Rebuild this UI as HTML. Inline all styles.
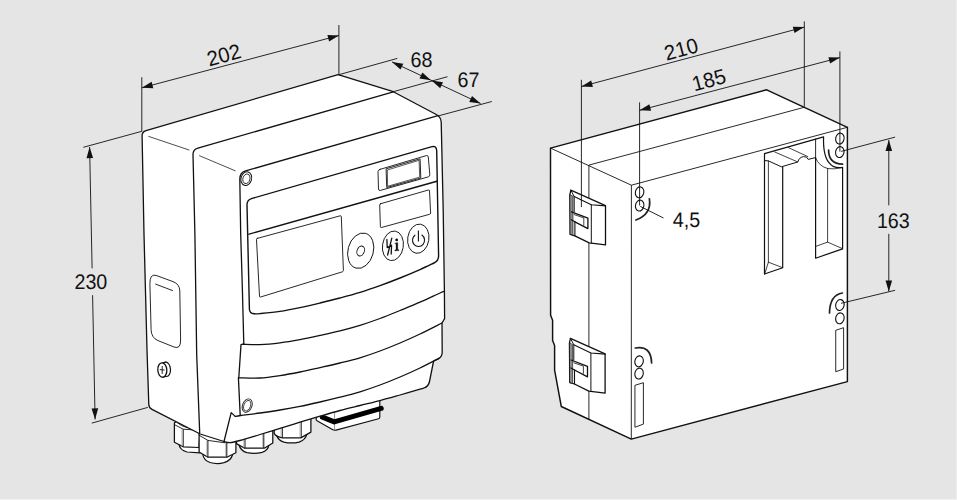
<!DOCTYPE html>
<html><head><meta charset="utf-8"><title>Dimensions</title>
<style>
html,body{margin:0;padding:0;background:#e5e5e5;}
body{width:957px;height:500px;overflow:hidden;position:relative;font-family:"Liberation Sans",sans-serif;}
svg{position:absolute;left:0;top:0;display:block}
text{font-family:"Liberation Sans",sans-serif;fill:#111;text-rendering:geometricPrecision}
</style></head><body>
<svg width="957" height="500" viewBox="0 0 957 500">
<rect x="0" y="0" width="957" height="500" fill="#e5e5e5"/>
<rect x="956" y="0" width="1" height="500" fill="#eeeeee"/>
<rect x="0" y="499" width="957" height="1" fill="#f2f2f2"/>
<g id="left">
<path d="M178.7,443 Q179.6,450.4 187.1,452 L200,452.8 L200,444 Z" fill="#fff" stroke="#111" stroke-width="1.25" stroke-linejoin="round" stroke-linecap="round" />
<path d="M174.4,423 L177.5,420.5 L200,431 L199,447.5 L183.2,446.8 L174.4,442.3 Z" fill="#fff" stroke="#111" stroke-width="1.25" stroke-linejoin="round" stroke-linecap="round" />
<line x1="183.2" y1="429.2" x2="183.2" y2="446.8" stroke="#111" stroke-width="1.0"/>
<line x1="181.89999999999998" y1="429.59999999999997" x2="181.89999999999998" y2="446.2" stroke="#9a9a9a" stroke-width="0.6"/>
<path d="M174.4,424.6 L183.2,429.2 L198.6,430.2 M177.2,422.6 Q181,426.2 187,427.6" fill="none" stroke="#111" stroke-width="0.9" stroke-linejoin="round" stroke-linecap="round" />
<path d="M239.1,445 Q240.6,451 247,452.6 Q254.7,454.2 262,452.4 Q268,450.6 269,444.6 Z" fill="#fff" stroke="#111" stroke-width="1.25" stroke-linejoin="round" stroke-linecap="round" />
<path d="M236.5,434 L236.5,443.6 L244.6,448.2 L264.3,448.2 L272.8,443 L272.8,426 Z" fill="#fff" stroke="#111" stroke-width="1.25" stroke-linejoin="round" stroke-linecap="round" />
<line x1="245" y1="437" x2="245" y2="448.2" stroke="#111" stroke-width="1.0"/>
<line x1="243.7" y1="437.4" x2="243.7" y2="447.59999999999997" stroke="#9a9a9a" stroke-width="0.6"/>
<line x1="263.8" y1="431" x2="263.8" y2="448.2" stroke="#111" stroke-width="1.0"/>
<line x1="262.5" y1="431.4" x2="262.5" y2="447.59999999999997" stroke="#9a9a9a" stroke-width="0.6"/>
<path d="M276.5,435 Q278.2,440.6 284,442.1 Q291.4,443.8 299,442.1 Q305.6,440 307,433.6 Z" fill="#fff" stroke="#111" stroke-width="1.25" stroke-linejoin="round" stroke-linecap="round" />
<path d="M274.2,427 L274.2,433.4 Q276,436.8 282.3,437.9 L300.8,437.9 L310.9,432.1 L310.9,416 Z" fill="#fff" stroke="#111" stroke-width="1.25" stroke-linejoin="round" stroke-linecap="round" />
<line x1="282.3" y1="427" x2="282.3" y2="437.9" stroke="#111" stroke-width="1.0"/>
<line x1="281.0" y1="427.4" x2="281.0" y2="437.29999999999995" stroke="#9a9a9a" stroke-width="0.6"/>
<line x1="301.2" y1="421" x2="301.2" y2="437.9" stroke="#111" stroke-width="1.0"/>
<line x1="299.9" y1="421.4" x2="299.9" y2="437.29999999999995" stroke="#9a9a9a" stroke-width="0.6"/>
<path d="M202.7,454 Q203.6,460.2 210,462.5 Q217,464.6 224,462.7 Q231,460.6 232.6,454.5 Z" fill="#fff" stroke="#111" stroke-width="1.25" stroke-linejoin="round" stroke-linecap="round" />
<path d="M199.1,431 L199.1,452 L207.9,457.2 L226.8,457.2 L235.9,452.7 L235.9,436 Z" fill="#fff" stroke="#111" stroke-width="1.25" stroke-linejoin="round" stroke-linecap="round" />
<line x1="207.9" y1="440.3" x2="207.9" y2="457.2" stroke="#111" stroke-width="1.0"/>
<line x1="206.6" y1="440.7" x2="206.6" y2="456.59999999999997" stroke="#9a9a9a" stroke-width="0.6"/>
<line x1="226.8" y1="442.9" x2="226.8" y2="457.2" stroke="#111" stroke-width="1.0"/>
<line x1="225.5" y1="443.29999999999995" x2="225.5" y2="456.59999999999997" stroke="#9a9a9a" stroke-width="0.6"/>
<path d="M199.1,435.2 L207.9,440.4 L225,442.8" fill="none" stroke="#111" stroke-width="0.9" stroke-linejoin="round" stroke-linecap="round" />
<path d="M320,409 L316.2,418.6 Q315.6,420 317,420.8 L332.4,429.6 Q334.2,430.6 336,430.1 L378.6,418.8 Q379.8,418.5 379.8,417.3 L379.8,399 Z" fill="#fff" stroke="#111" stroke-width="1.15" stroke-linejoin="round" stroke-linecap="round" />
<line x1="334.6" y1="412" x2="334.6" y2="430" stroke="#777" stroke-width="0.8"/>
<path d="M322.4,417.2 L334.2,421.9 L381.2,408.4" fill="none" stroke="#000" stroke-width="5.1" stroke-linejoin="round" stroke-linecap="round" />
<path d="M142.1,136 Q142,131.8 146,130.6 L338.1,74.7 L393.3,91.7 L435.8,114.3 Q441,117 441.2,122 L443.2,210 L444.4,291.3 L444.6,318.6 L442,323 L442.2,352 Q442.2,356.8 439,358.3 L433.6,361 L429.6,381 Q428.6,386.6 424,388 L424,388 C423.33,388.20 424.00,388.03 420,389.2 C416.00,390.37 406.67,393.10 400,395 C393.33,396.90 386.67,398.85 380,400.6 C373.33,402.35 366.67,403.85 360,405.5 C353.33,407.15 346.67,408.72 340,410.5 C333.33,412.28 326.67,414.25 320,416.2 C313.33,418.15 306.67,420.18 300,422.2 C293.33,424.22 286.67,426.25 280,428.3 C273.33,430.35 266.67,432.47 260,434.5 C253.33,436.53 245.00,439.15 240,440.5 C235.00,441.85 232.67,442.43 230,442.6 C227.33,442.77 225.00,441.68 224,441.5 L200.2,434 L152,409.4 Q148.9,407.8 148.8,404.5 L147,350 L144,234 Z" fill="#fff" stroke="#111" stroke-width="1.3" stroke-linejoin="round" stroke-linecap="round" />
<path d="M393.3,91.9 L197.9,148.1 Q193,149.6 193,154.5 L194.9,234.1 L196.7,355 L199.7,433" fill="none" stroke="#111" stroke-width="1.3" stroke-linejoin="round" stroke-linecap="round" />
<path d="M438,115.6 L245.6,170.9 Q239.8,172.6 239.8,179 L240.7,234 L242.4,290 L243.8,343.9" fill="none" stroke="#111" stroke-width="1.3" stroke-linejoin="round" stroke-linecap="round" />
<line x1="148.3" y1="136.3" x2="189.4" y2="150.1" stroke="#111" stroke-width="0.75"/>
<line x1="199.2" y1="155.6" x2="235.5" y2="170.9" stroke="#111" stroke-width="0.75"/>
<ellipse cx="246.3" cy="178.6" rx="5.3" ry="6.9" transform="rotate(16 246.3 178.6)" fill="#fff" stroke="#111" stroke-width="1.0"/>
<ellipse cx="246.4" cy="178.8" rx="3.5" ry="4.9" transform="rotate(16 246.4 178.8)" fill="none" stroke="#111" stroke-width="0.8"/>
<path d="M247,205 Q246.9,200.1 251.5,198.6 L432,146.6 Q436.3,145.6 436.7,150.5 L438.6,256 Q438.6,260.8 434,263 L434,263 C431.67,264.10 425.67,267.10 420,269.6 C414.33,272.10 406.67,275.33 400,278 C393.33,280.67 386.67,283.20 380,285.6 C373.33,288.00 366.67,290.33 360,292.4 C353.33,294.47 346.67,296.23 340,298 C333.33,299.77 326.67,301.40 320,303 C313.33,304.60 306.67,306.20 300,307.6 C293.33,309.00 286.67,310.40 280,311.4 C273.33,312.40 264.33,313.20 260,313.6 C255.67,314.00 255.00,313.77 254,313.8 Q249.6,313.6 249.4,309 Z" fill="none" stroke="#111" stroke-width="1.4" stroke-linejoin="round" stroke-linecap="round" />
<line x1="248.3" y1="234.3" x2="437.8" y2="181" stroke="#111" stroke-width="1.4"/>
<path d="M257.3,238.4 L340.2,215.8 Q341.2,215.6 341.3,216.6 L343.4,270.4 Q343.4,271.4 342.4,271.8 L260.6,297 Q259.6,297.3 259.5,296.3 L256.5,239.6 Q256.4,238.6 257.3,238.4 Z" fill="none" stroke="#111" stroke-width="0.9" stroke-linejoin="round" stroke-linecap="round" />
<path d="M380,169.4 L426.3,155.6 Q428.1,155.1 428.3,157 L429.8,174.6 Q429.9,176.4 428.2,176.9 L380.4,190.4 Q378.6,190.9 378.5,189 L378,171.6 Q378,170 380,169.4 Z" fill="none" stroke="#111" stroke-width="0.9" stroke-linejoin="round" stroke-linecap="round" />
<path d="M386.5,168.7 L420.1,158.8 L420.8,178 L387.1,187.4 Z" fill="none" stroke="#111" stroke-width="0.9" stroke-linejoin="round" stroke-linecap="round" />
<path d="M387.7,169.9 L419.1,160.3 L419.7,177.1 L388,186.2 Z" fill="none" stroke="#111" stroke-width="0.7" stroke-linejoin="round" stroke-linecap="round" />
<path d="M380.7,203.7 L428.4,190 Q429.4,189.7 429.5,190.7 L430.6,213 Q430.6,214 429.6,214.3 L381.4,227.5 Q380.5,227.8 380.4,226.8 L379.7,205 Q379.7,204 380.7,203.7 Z" fill="none" stroke="#111" stroke-width="0.9" stroke-linejoin="round" stroke-linecap="round" />
<ellipse cx="360.7" cy="250.7" rx="12.7" ry="18" transform="rotate(15 360.7 250.7)" fill="none" stroke="#111" stroke-width="0.9"/>
<ellipse cx="360.7" cy="251" rx="3.6" ry="5.1" transform="rotate(22 360.7 251)" fill="none" stroke="#111" stroke-width="0.9"/>
<ellipse cx="392.9" cy="245.8" rx="10.4" ry="14.9" transform="rotate(9 392.9 245.8)" fill="none" stroke="#111" stroke-width="0.9"/>
<ellipse cx="418.3" cy="238.7" rx="10.6" ry="14.7" transform="rotate(9 418.3 238.7)" fill="none" stroke="#111" stroke-width="0.9"/>
<path d="M414.9,235.2 A6,6.3 0 1 0 421.9,235" fill="none" stroke="#111" stroke-width="1.1" stroke-linejoin="round" stroke-linecap="round" />
<line x1="418.4" y1="230.6" x2="418.4" y2="241.4" stroke="#111" stroke-width="1.1"/>
<path d="M386.9,239.4 L387.2,247.6 L391.6,245.2 M391.8,238.2 L387.6,255 M391.6,245.2 L391.2,254" fill="none" stroke="#111" stroke-width="1.3" stroke-linejoin="round" stroke-linecap="round" />
<circle cx="396.7" cy="239.9" r="1.4" fill="#111"/>
<path d="M395.2,243 L397.8,242.6 L397.8,249.6 L399,249.8 L399,250.6 L394.8,250.9 L394.8,250.1 L396,249.8 L396,243.8 L395.2,243.8 Z" fill="#111" stroke="#111" stroke-width="0.3" stroke-linejoin="round" stroke-linecap="round" />
<!--ICONS-->
<path d="M243,344.3 C245.83,344.35 253.83,344.85 260,344.6 C266.17,344.35 273.33,343.63 280,342.8 C286.67,341.97 293.33,340.83 300,339.6 C306.67,338.37 313.33,336.87 320,335.4 C326.67,333.93 333.33,332.48 340,330.8 C346.67,329.12 353.33,327.35 360,325.3 C366.67,323.25 373.33,320.97 380,318.5 C386.67,316.03 393.33,313.22 400,310.5 C406.67,307.78 413.33,305.12 420,302.2 C426.67,299.28 435.93,294.82 440,293 C444.07,291.18 443.67,291.58 444.4,291.3 " fill="none" stroke="#111" stroke-width="1.3" stroke-linejoin="round" stroke-linecap="round" />
<path d="M243.8,343.9 L241,344.6 L238.8,377.8" fill="none" stroke="#111" stroke-width="1.3" stroke-linejoin="round" stroke-linecap="round" />
<path d="M238.8,377.8 C242.33,377.83 253.13,378.37 260,378 C266.87,377.63 273.33,376.60 280,375.6 C286.67,374.60 293.33,373.33 300,372 C306.67,370.67 313.33,369.10 320,367.6 C326.67,366.10 333.33,364.63 340,363 C346.67,361.37 353.33,359.80 360,357.8 C366.67,355.80 373.33,353.47 380,351 C386.67,348.53 393.33,345.83 400,343 C406.67,340.17 413.00,337.33 420,334 C427.00,330.67 438.33,324.83 442,323 " fill="none" stroke="#111" stroke-width="1.3" stroke-linejoin="round" stroke-linecap="round" />
<path d="M238.4,377.6 L240.2,415.4" fill="none" stroke="#111" stroke-width="1.3" stroke-linejoin="round" stroke-linecap="round" />
<path d="M235.2,416.4 C236.10,416.25 236.47,416.07 240.6,415.5 C244.73,414.93 253.43,413.92 260,413 C266.57,412.08 273.33,411.10 280,410 C286.67,408.90 293.33,407.73 300,406.4 C306.67,405.07 313.33,403.53 320,402 C326.67,400.47 333.33,398.90 340,397.2 C346.67,395.50 353.33,393.83 360,391.8 C366.67,389.77 373.33,387.47 380,385 C386.67,382.53 393.33,379.83 400,377 C406.67,374.17 413.50,371.12 420,368 C426.50,364.88 435.83,359.92 439,358.3 " fill="none" stroke="#111" stroke-width="1.3" stroke-linejoin="round" stroke-linecap="round" />
<path d="M235.2,416.4 L231.2,412.6 L224,441.5" fill="none" stroke="#111" stroke-width="1.3" stroke-linejoin="round" stroke-linecap="round" />
<ellipse cx="247.2" cy="405.6" rx="4.7" ry="7" transform="rotate(22 247.2 405.6)" fill="none" stroke="#222" stroke-width="0.9"/>
<ellipse cx="247.2" cy="405.7" rx="3.3" ry="5.5" transform="rotate(22 247.2 405.7)" fill="none" stroke="#222" stroke-width="0.8"/>
<path d="M149.9,284 Q149.6,273.5 156,275.4 L173,281.6 Q179.6,284 179.8,291 L180.6,340 Q180.8,349.5 174,347 L158,340.6 Q151.3,337.8 151.1,330 Z" fill="none" stroke="#111" stroke-width="0.9" stroke-linejoin="round" stroke-linecap="round" />
<line x1="155.3" y1="284" x2="172.9" y2="290.7" stroke="#111" stroke-width="0.9"/>
<ellipse cx="166" cy="369.3" rx="4.5" ry="7.2" transform="rotate(-4 166 369.3)" fill="#fff" stroke="#111" stroke-width="1.2"/>
<path d="M162.6,362.8 L166.4,362.1 L166.2,376.5 L162,377.2 Z" fill="#fff" stroke="#fff" stroke-width="0.1" stroke-linejoin="round" stroke-linecap="round" />
<path d="M162.6,362.8 L166.4,362.1 M162,377.2 L166.2,376.5" fill="none" stroke="#111" stroke-width="1.1" stroke-linejoin="round" stroke-linecap="round" />
<ellipse cx="162.3" cy="370" rx="4.5" ry="7.2" transform="rotate(-4 162.3 370)" fill="#fff" stroke="#111" stroke-width="1.3"/>
<path d="M160.2,369.6 L164.2,370 M162.2,366.4 L162.2,373.6" fill="none" stroke="#111" stroke-width="0.9" stroke-linejoin="round" stroke-linecap="round" />
</g>
<g id="right">
<path d="M550.5,148.1 L766.7,89.8 L847.4,127.3 L847.4,381.6 L631.3,439.1 L561.3,406.5 L554.6,370.1 L554.6,345.4 L552.6,340.4 L552.6,320.3 L550.6,315.3 Z" fill="#fff" stroke="#111" stroke-width="1.45" stroke-linejoin="round" stroke-linecap="round" />
<path d="M550.5,148.1 L631.4,185.2 L847.4,127.3" fill="none" stroke="#111" stroke-width="0.9" stroke-linejoin="round" stroke-linecap="round" />
<line x1="631.4" y1="185.2" x2="631.3" y2="439.1" stroke="#111" stroke-width="0.9"/>
<path d="M804.3,107.3 L588.9,165.1 L588.9,419.3" fill="none" stroke="#111" stroke-width="0.9" stroke-linejoin="round" stroke-linecap="round" />
<path d="M569.9,194.6 L570.8,190.1 L605.5,205.6 L605.5,244.9 L589.2,242.9 L574.9,235.8 L570.2,234.4 Z" fill="#fff" stroke="#111" stroke-width="1.3" stroke-linejoin="round" stroke-linecap="round" />
<path d="M570.1,194.8 L573.0,196.2 L573.0,235.2 L570.3,234.3 Z" fill="#8c8c8c" stroke="#111" stroke-width="0.6" stroke-linejoin="round" stroke-linecap="round" />
<path d="M574.2,196.6 L591.3,204.8 L605.5,205.9" fill="none" stroke="#111" stroke-width="1.1" stroke-linejoin="round" stroke-linecap="round" />
<path d="M570.8,190.1 L574.2,196.6 L574.2,211.8" fill="none" stroke="#111" stroke-width="1.0" stroke-linejoin="round" stroke-linecap="round" />
<path d="M571.5,211.8 L587.9,218.1 L587.9,228.6 L574.9,221.8" fill="none" stroke="#111" stroke-width="1.3" stroke-linejoin="round" stroke-linecap="round" />
<path d="M571.3,219.7 L574.9,221.8 L574.9,235.8" fill="none" stroke="#111" stroke-width="1.1" stroke-linejoin="round" stroke-linecap="round" />
<path d="M574.2,214.6 L583.8,217.9 L583.8,225.2" fill="none" stroke="#111" stroke-width="0.8" stroke-linejoin="round" stroke-linecap="round" />
<path d="M591.3,204.8 L591.3,243.2" fill="none" stroke="#111" stroke-width="1.0" stroke-linejoin="round" stroke-linecap="round" />
<path d="M569.5,342.8 L570.4,338.3 L605.1,353.8 L605.1,393.1 L588.8,391.1 L574.5,384.0 L569.8,382.6 Z" fill="#fff" stroke="#111" stroke-width="1.3" stroke-linejoin="round" stroke-linecap="round" />
<path d="M569.7,343.0 L572.6,344.4 L572.6,383.4 L569.9,382.5 Z" fill="#8c8c8c" stroke="#111" stroke-width="0.6" stroke-linejoin="round" stroke-linecap="round" />
<path d="M573.8,344.8 L590.9,353.0 L605.1,354.1" fill="none" stroke="#111" stroke-width="1.1" stroke-linejoin="round" stroke-linecap="round" />
<path d="M570.4,338.3 L573.8,344.8 L573.8,360.0" fill="none" stroke="#111" stroke-width="1.0" stroke-linejoin="round" stroke-linecap="round" />
<path d="M571.1,360.0 L587.5,366.3 L587.5,376.8 L574.5,370.0" fill="none" stroke="#111" stroke-width="1.3" stroke-linejoin="round" stroke-linecap="round" />
<path d="M570.9,367.9 L574.5,370.0 L574.5,384.0" fill="none" stroke="#111" stroke-width="1.1" stroke-linejoin="round" stroke-linecap="round" />
<path d="M573.8,362.8 L583.4,366.1 L583.4,373.4" fill="none" stroke="#111" stroke-width="0.8" stroke-linejoin="round" stroke-linecap="round" />
<path d="M590.9,353.0 L590.9,391.4" fill="none" stroke="#111" stroke-width="1.0" stroke-linejoin="round" stroke-linecap="round" />
<ellipse cx="639.6" cy="192.3" rx="4.2" ry="5.5" transform="rotate(12 639.6 192.3)" fill="none" stroke="#111" stroke-width="1.1"/>
<ellipse cx="639.7" cy="205.6" rx="4.2" ry="5.5" transform="rotate(12 639.7 205.6)" fill="none" stroke="#111" stroke-width="1.1"/>
<ellipse cx="839.9" cy="138.6" rx="4.2" ry="5.5" transform="rotate(12 839.9 138.6)" fill="none" stroke="#111" stroke-width="1.1"/>
<ellipse cx="839.8" cy="152.1" rx="4.2" ry="5.5" transform="rotate(12 839.8 152.1)" fill="none" stroke="#111" stroke-width="1.1"/>
<ellipse cx="839.9" cy="305" rx="4.2" ry="5.5" transform="rotate(12 839.9 305)" fill="none" stroke="#111" stroke-width="1.1"/>
<ellipse cx="839.9" cy="318.3" rx="4.2" ry="5.5" transform="rotate(12 839.9 318.3)" fill="none" stroke="#111" stroke-width="1.1"/>
<ellipse cx="639.1" cy="361.3" rx="4.2" ry="5.5" transform="rotate(12 639.1 361.3)" fill="none" stroke="#111" stroke-width="1.1"/>
<ellipse cx="639.1" cy="373.6" rx="4.2" ry="5.5" transform="rotate(12 639.1 373.6)" fill="none" stroke="#111" stroke-width="1.1"/>
<path d="M649.4,198.8 Q651.8,214 635.9,220" fill="none" stroke="#222" stroke-width="1.7" stroke-linejoin="round" stroke-linecap="round" />
<path d="M842.4,293 Q829.8,295 829.5,313" fill="none" stroke="#222" stroke-width="1.7" stroke-linejoin="round" stroke-linecap="round" />
<path d="M635.3,348 Q651,345 651.6,363" fill="none" stroke="#222" stroke-width="1.7" stroke-linejoin="round" stroke-linecap="round" />
<path d="M828.6,150 Q828.4,163.6 842.6,164.2" fill="none" stroke="#222" stroke-width="1.7" stroke-linejoin="round" stroke-linecap="round" />
<path d="M836.1,330.2 L843.6,327.7 L843.6,369 L836.1,371.6 Z" fill="none" stroke="#111" stroke-width="0.9" stroke-linejoin="round" stroke-linecap="round" />
<path d="M635.3,385.2 L643.4,382.7 L643.4,424.1 L635.3,427.1 Z" fill="none" stroke="#111" stroke-width="0.9" stroke-linejoin="round" stroke-linecap="round" />
<path d="M764.5,274 L764.5,153.7 L823.6,136.9 Q822.6,160.5 833.2,166.4 Q837,168.2 842.6,167.4 L842.6,248.9 L815.6,258.2 L815.6,157.6" fill="none" stroke="#111" stroke-width="1.2" stroke-linejoin="round" stroke-linecap="round" />
<path d="M764.5,274 L782.7,267.7 L782.7,166.9" fill="none" stroke="#111" stroke-width="1.2" stroke-linejoin="round" stroke-linecap="round" />
<path d="M768.4,160.9 L768.4,262.2 L782.7,267.7 M768.4,262.2 L764.8,273.6" fill="none" stroke="#111" stroke-width="0.8" stroke-linejoin="round" stroke-linecap="round" />
<path d="M764.8,160.6 L768.4,160.9 L781.4,166.8 L798,161.9 Q798.6,157.6 803.4,156.6 Q807.4,156.4 808.2,159.4 L815.6,157.6" fill="none" stroke="#111" stroke-width="1.0" stroke-linejoin="round" stroke-linecap="round" />
<path d="M774.8,152 L797.4,161.8 M788.4,147.6 L807.8,156.6" fill="none" stroke="#111" stroke-width="0.8" stroke-linejoin="round" stroke-linecap="round" />
<line x1="815.6" y1="138.6" x2="815.6" y2="158" stroke="#111" stroke-width="0.9"/>
<path d="M827.6,168.4 L827.6,242.1 L842.4,248.6 M827.6,242.1 L815.8,246.4" fill="none" stroke="#111" stroke-width="0.8" stroke-linejoin="round" stroke-linecap="round" />
<path d="M815.6,158 Q819,166.4 828,168.6 Q834,169.6 842,167.6" fill="none" stroke="#111" stroke-width="0.8" stroke-linejoin="round" stroke-linecap="round" />
</g>
<g id="dims">
<line x1="141.8" y1="77.2" x2="141.8" y2="131.5" stroke="#111" stroke-width="0.9"/>
<line x1="338.9" y1="25" x2="338.9" y2="74" stroke="#111" stroke-width="0.9"/>
<line x1="141.8" y1="87.8" x2="338.9" y2="35.5" stroke="#111" stroke-width="0.9"/>
<polygon points="141.8,87.8 151.6,81.8 153.3,88.2" fill="#111"/>
<polygon points="338.9,35.5 329.1,41.5 327.4,35.1" fill="#111"/>
<line x1="338.9" y1="74.7" x2="397.3" y2="58.4" stroke="#111" stroke-width="0.9"/>
<line x1="393.3" y1="91.7" x2="447.5" y2="76.7" stroke="#111" stroke-width="0.9"/>
<line x1="438.7" y1="115.8" x2="491.8" y2="101.5" stroke="#111" stroke-width="0.9"/>
<line x1="392" y1="61.9" x2="480.6" y2="103.5" stroke="#111" stroke-width="0.9"/>
<polygon points="392.0,61.9 403.3,63.7 400.5,69.6" fill="#111"/>
<polygon points="430.9,80.3 419.5,78.6 422.4,72.6" fill="#111"/>
<polygon points="431.6,80.6 443.0,82.3 440.2,88.2" fill="#111"/>
<polygon points="480.6,103.5 469.2,101.9 472.0,95.9" fill="#111"/>
<line x1="83.3" y1="147.3" x2="141.8" y2="131.3" stroke="#111" stroke-width="0.9"/>
<line x1="91.8" y1="423.1" x2="147.8" y2="407.4" stroke="#111" stroke-width="0.9"/>
<line x1="89.6" y1="147.1" x2="92.1" y2="268.4" stroke="#111" stroke-width="0.9"/>
<line x1="92.6" y1="295.2" x2="95.1" y2="419.4" stroke="#111" stroke-width="0.9"/>
<polygon points="89.6,147.1 93.1,158.0 86.5,158.2" fill="#111"/>
<polygon points="95.1,419.4 91.6,408.5 98.2,408.3" fill="#111"/>
<line x1="581.4" y1="79.8" x2="581.4" y2="207" stroke="#111" stroke-width="0.9"/>
<line x1="804.3" y1="21.3" x2="804.3" y2="106.6" stroke="#111" stroke-width="0.9"/>
<line x1="581.4" y1="86.5" x2="804.3" y2="27.1" stroke="#111" stroke-width="0.9"/>
<polygon points="581.4,86.5 591.2,80.5 592.9,86.9" fill="#111"/>
<polygon points="804.3,27.1 794.5,33.1 792.8,26.7" fill="#111"/>
<line x1="639.6" y1="102.3" x2="639.6" y2="205.5" stroke="#111" stroke-width="0.9"/>
<line x1="839.9" y1="51.4" x2="839.9" y2="151.6" stroke="#111" stroke-width="0.9"/>
<line x1="639.6" y1="110.3" x2="839.9" y2="57.6" stroke="#111" stroke-width="0.9"/>
<polygon points="639.6,110.3 649.4,104.3 651.1,110.7" fill="#111"/>
<polygon points="839.9,57.6 830.1,63.6 828.4,57.2" fill="#111"/>
<line x1="841.1" y1="151.4" x2="895.1" y2="137.1" stroke="#111" stroke-width="0.9"/>
<line x1="841.1" y1="303.3" x2="895.1" y2="290.3" stroke="#111" stroke-width="0.9"/>
<line x1="888.8" y1="140.1" x2="888.8" y2="205.3" stroke="#111" stroke-width="0.9"/>
<line x1="888.8" y1="233.9" x2="888.8" y2="291.5" stroke="#111" stroke-width="0.9"/>
<polygon points="888.8,140.1 892.1,151.1 885.5,151.1" fill="#111"/>
<polygon points="888.8,291.5 885.5,280.5 892.1,280.5" fill="#111"/>
<line x1="640.3" y1="206.4" x2="663.5" y2="218" stroke="#111" stroke-width="0.9"/>
</g>
<g id="labels">
<text transform="translate(223.8 54.7) rotate(-15) scale(1 1.03)" x="0" y="7.34" font-size="20.5" text-anchor="middle">202</text>
<text transform="translate(421.4 59.6) rotate(0) scale(1 1.065)" x="0" y="7.05" font-size="19.7" text-anchor="middle">68</text>
<text transform="translate(468.5 79.7) rotate(0) scale(1 1.065)" x="0" y="7.05" font-size="19.7" text-anchor="middle">67</text>
<text transform="translate(90.85 281.7) rotate(0) scale(1 1.065)" x="0" y="7.05" font-size="19.7" text-anchor="middle">230</text>
<text transform="translate(681.0 48.9) rotate(-15) scale(1 1.03)" x="0" y="7.34" font-size="20.5" text-anchor="middle">210</text>
<text transform="translate(708.8 79.7) rotate(-15) scale(1 1.03)" x="0" y="7.34" font-size="20.5" text-anchor="middle">185</text>
<text transform="translate(893.3 220.2) rotate(0) scale(1 1.065)" x="0" y="7.05" font-size="19.7" text-anchor="middle">163</text>
<text transform="translate(686.5 219.4) rotate(0) scale(1 1.065)" x="0" y="7.05" font-size="19.7" text-anchor="middle">4,5</text>
</g>
</svg>
</body></html>
